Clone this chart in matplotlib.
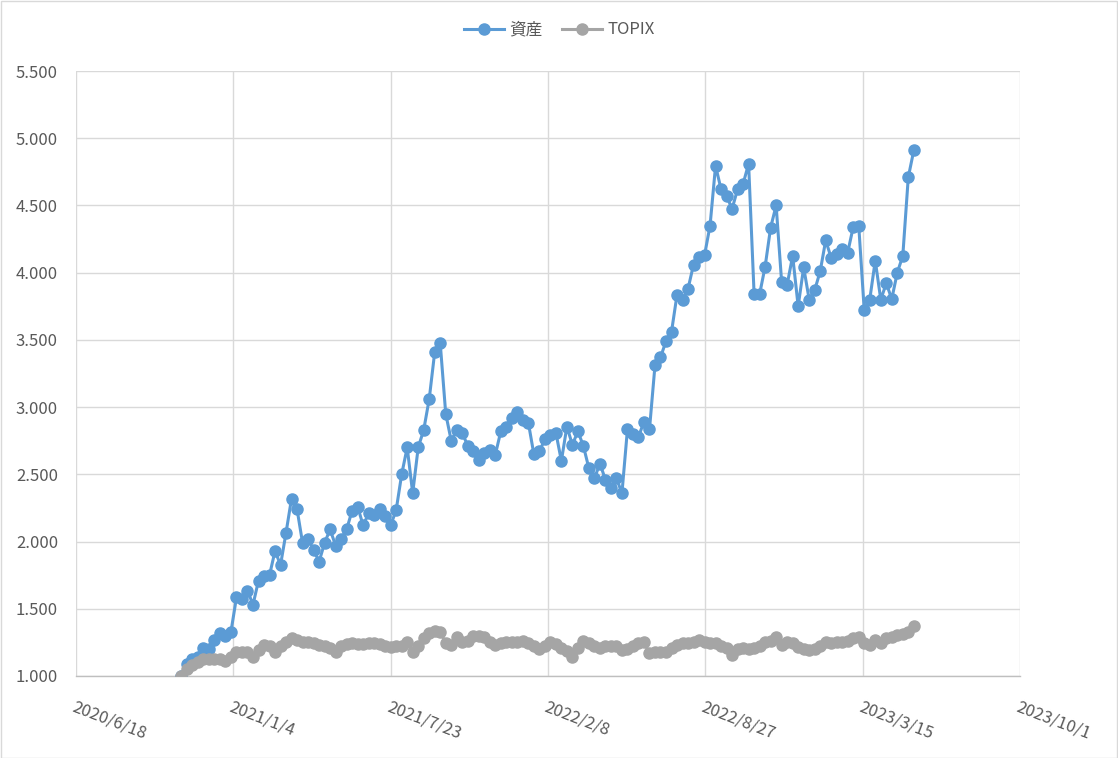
import matplotlib
matplotlib.use("Agg")
import matplotlib.pyplot as plt
from matplotlib.ticker import FuncFormatter, MultipleLocator
from matplotlib.patches import Rectangle
import pandas as pd

plt.rcParams['font.family'] = ['Noto Sans CJK JP', 'DejaVu Sans']

start_date = "2020-10-30"
asset = [1.00, 1.087, 1.13, 1.14, 1.21, 1.20, 1.265, 1.32, 1.30, 1.33,
         1.585, 1.57, 1.635, 1.53, 1.71, 1.745, 1.75, 1.93, 1.826, 2.066,
         2.32, 2.24, 1.99, 2.02, 1.94, 1.85, 1.99, 2.09, 1.97, 2.02,
         2.09, 2.23, 2.26, 2.12, 2.21, 2.20, 2.24, 2.19, 2.12, 2.235,
         2.50, 2.70, 2.36, 2.70, 2.83, 3.06, 3.41, 3.475, 2.95, 2.75,
         2.83, 2.81, 2.71, 2.67, 2.61, 2.66, 2.68, 2.645, 2.82, 2.855,
         2.92, 2.96, 2.905, 2.885, 2.65, 2.67, 2.76, 2.79, 2.81, 2.60,
         2.855, 2.72, 2.82, 2.71, 2.545, 2.47, 2.58, 2.46, 2.40, 2.47,
         2.36, 2.835, 2.80, 2.78, 2.89, 2.835, 3.31, 3.37, 3.49, 3.56,
         3.835, 3.80, 3.88, 4.06, 4.115, 4.13, 4.35, 4.795, 4.62, 4.57,
         4.475, 4.62, 4.66, 4.81, 3.84, 3.84, 4.045, 4.335, 4.50, 3.93,
         3.91, 4.125, 3.75, 4.04, 3.80, 3.87, 4.01, 4.24, 4.11, 4.14,
         4.175, 4.15, 4.34, 4.35, 3.72, 3.80, 4.09, 3.80, 3.92, 3.805,
         4.00, 4.125, 4.71, 4.91]
topix = [1.00, 1.05, 1.08, 1.105, 1.125, 1.125, 1.125, 1.13, 1.115, 1.145,
         1.175, 1.18, 1.18, 1.145, 1.195, 1.23, 1.22, 1.175, 1.22, 1.25,
         1.28, 1.265, 1.255, 1.25, 1.245, 1.23, 1.22, 1.21, 1.18, 1.22,
         1.24, 1.245, 1.235, 1.235, 1.245, 1.245, 1.24, 1.225, 1.215, 1.22,
         1.225, 1.25, 1.18, 1.22, 1.28, 1.32, 1.335, 1.33, 1.245, 1.23,
         1.29, 1.255, 1.26, 1.30, 1.30, 1.29, 1.25, 1.23, 1.245, 1.25,
         1.25, 1.255, 1.26, 1.245, 1.22, 1.20, 1.225, 1.25, 1.235, 1.21,
         1.185, 1.14, 1.21, 1.26, 1.245, 1.22, 1.21, 1.22, 1.22, 1.22,
         1.19, 1.20, 1.22, 1.245, 1.25, 1.17, 1.175, 1.175, 1.18, 1.21,
         1.23, 1.245, 1.245, 1.255, 1.27, 1.255, 1.245, 1.245, 1.225, 1.205,
         1.155, 1.20, 1.205, 1.20, 1.205, 1.225, 1.25, 1.26, 1.29, 1.23,
         1.255, 1.245, 1.215, 1.20, 1.19, 1.20, 1.22, 1.255, 1.245, 1.25,
         1.255, 1.26, 1.28, 1.29, 1.245, 1.23, 1.27, 1.245, 1.28, 1.29,
         1.305, 1.315, 1.33, 1.37]
series_names = ["資産", "TOPIX"]
x_min = "2020-06-18"
x_max = "2023-10-01"

dates = pd.date_range(start_date, periods=len(asset), freq="7D")

W, H = 1118, 758
fig = plt.figure(figsize=(W / 100, H / 100), dpi=100)
ax = fig.add_axes([76 / W, 1 - 676 / H, (1020 - 76) / W, (676 - 71) / H])

blue = "#5B9BD5"
gray = "#A5A5A5"
ax.plot(dates, asset, color=blue, lw=2.2, marker="o", ms=8, label=series_names[0], zorder=3)
ax.plot(dates, topix, color=gray, lw=2.2, marker="o", ms=8, label=series_names[1], zorder=4)

d0 = pd.Timestamp(x_min)
d1 = pd.Timestamp(x_max)
ax.set_xlim(d0, d1)
ax.set_ylim(1.0, 5.5)
ax.yaxis.set_major_locator(MultipleLocator(0.5))
ax.yaxis.set_major_formatter(FuncFormatter(lambda v, p: f"{v:.3f}"))

ticks = [d0 + pd.Timedelta(days=200 * k) for k in range(7)]
ax.set_xticks(ticks)
ax.set_xticklabels([f"{t.year}/{t.month}/{t.day}" for t in ticks])

ax.grid(True, color="#D9D9D9", lw=1.0, zorder=0)
ax.set_axisbelow(True)
for s in ["top", "right", "left"]:
    ax.spines[s].set_visible(False)
ax.spines["bottom"].set_color("#BFBFBF")
ax.spines["bottom"].set_linewidth(1.0)

ax.tick_params(axis="both", length=0, colors="#595959", labelsize=12)
ax.tick_params(axis="y", pad=13)
for lab in ax.get_xticklabels():
    lab.set_rotation(-21)
    lab.set_ha("left")
    lab.set_va("top")
    lab.set_rotation_mode("anchor")
ax.tick_params(axis="x", pad=16)

leg = fig.legend(loc="center", bbox_to_anchor=(0.5, 1 - 30 / H), ncol=2, frameon=False,
                 fontsize=12, labelcolor="#595959", handlelength=2.4, columnspacing=1.2,
                 handletextpad=0.3)

fig.patches.append(Rectangle((0.5 / W, 0.5 / H), 1 - 1.5 / W, 1 - 1.5 / H, transform=fig.transFigure,
                             fill=False, edgecolor="#D9D9D9", lw=1.0))

fig.savefig("out.png", dpi=100)
